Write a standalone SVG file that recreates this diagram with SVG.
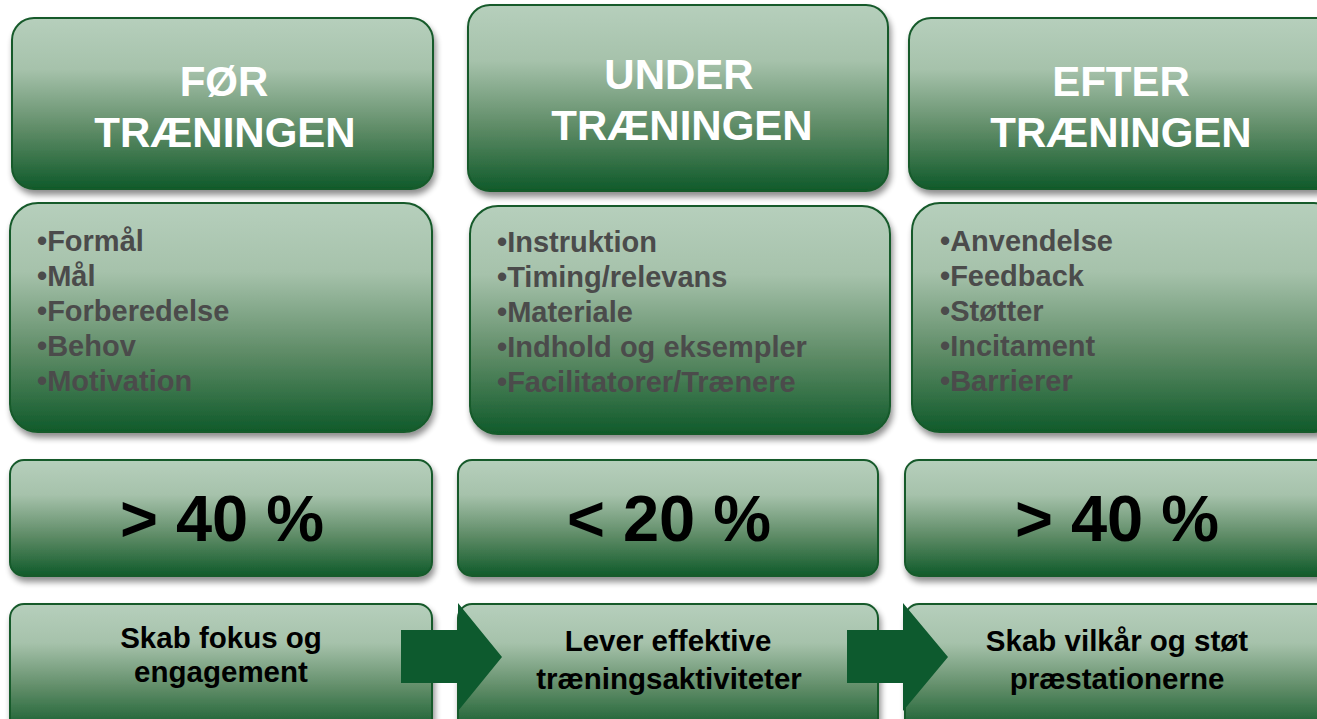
<svg xmlns="http://www.w3.org/2000/svg" width="1317" height="719" viewBox="0 0 1317 719">
<defs>
<linearGradient id="g" x1="0" y1="0" x2="0" y2="1">
<stop offset="0" stop-color="#b6cfbc"/>
<stop offset="0.3" stop-color="#a6c2ab"/>
<stop offset="0.65" stop-color="#5f8c67"/>
<stop offset="1" stop-color="#0f5a2a"/>
</linearGradient>
<filter id="sh" x="-10%" y="-10%" width="120%" height="130%">
<feGaussianBlur in="SourceAlpha" stdDeviation="3"/>
<feOffset dx="2" dy="5" result="b"/>
<feComponentTransfer><feFuncA type="linear" slope="0.45"/></feComponentTransfer>
<feMerge><feMergeNode/><feMergeNode in="SourceGraphic"/></feMerge>
</filter>
</defs>
<style>
.box{fill:url(#g);stroke:#175a2c;stroke-width:2;filter:url(#sh)}
.hd{font-family:"Liberation Sans",Arial,sans-serif;font-weight:bold;font-size:42px;fill:#ffffff;text-anchor:middle}
.li{font-family:"Liberation Sans",Arial,sans-serif;font-weight:bold;font-size:29px;fill:#4b4b4b}
.pc{font-family:"Liberation Sans",Arial,sans-serif;font-weight:bold;font-size:65px;fill:#000000;text-anchor:middle}
.bt{font-family:"Liberation Sans",Arial,sans-serif;font-weight:bold;font-size:29.5px;fill:#000000;text-anchor:middle}
.arr{fill:#0d5a2e}
</style>
<rect width="1317" height="719" fill="#ffffff"/>

<g id="head-foer"><rect class="box" x="12" y="18" width="421" height="171" rx="22"/>
<text class="hd" x="224" y="96">FØR</text><text class="hd" x="225" y="147">TRÆNINGEN</text></g>
<g id="head-under"><rect class="box" x="468" y="5" width="420" height="186" rx="22"/>
<text class="hd" x="679" y="89">UNDER</text><text class="hd" x="682" y="140">TRÆNINGEN</text></g>
<g id="head-efter"><rect class="box" x="909" y="18" width="430" height="171" rx="22"/>
<text class="hd" x="1121" y="96">EFTER</text><text class="hd" x="1121" y="147">TRÆNINGEN</text></g>

<g id="list-foer"><rect class="box" x="10" y="203" width="422" height="229" rx="28"/>
<text class="li" x="37" y="251">•Formål</text>
<text class="li" x="37" y="286">•Mål</text>
<text class="li" x="37" y="321">•Forberedelse</text>
<text class="li" x="37" y="356">•Behov</text>
<text class="li" x="37" y="391">•Motivation</text></g>
<g id="list-under"><rect class="box" x="470" y="206" width="420" height="228" rx="28"/>
<text class="li" x="497" y="252">•Instruktion</text>
<text class="li" x="497" y="287">•Timing/relevans</text>
<text class="li" x="497" y="322">•Materiale</text>
<text class="li" x="497" y="357">•Indhold og eksempler</text>
<text class="li" x="497" y="392">•Facilitatorer/Trænere</text></g>
<g id="list-efter"><rect class="box" x="912" y="203" width="430" height="229" rx="28"/>
<text class="li" x="940" y="251">•Anvendelse</text>
<text class="li" x="940" y="286">•Feedback</text>
<text class="li" x="940" y="321">•Støtter</text>
<text class="li" x="940" y="356">•Incitament</text>
<text class="li" x="940" y="391">•Barrierer</text></g>

<g id="pct-foer"><rect class="box" x="10" y="460" width="422" height="116" rx="14"/>
<text class="pc" x="222" y="541">&gt; 40 %</text></g>
<g id="pct-under"><rect class="box" x="458" y="460" width="420" height="116" rx="14"/>
<text class="pc" x="669" y="541">&lt; 20 %</text></g>
<g id="pct-efter"><rect class="box" x="905" y="460" width="430" height="116" rx="14"/>
<text class="pc" x="1117" y="541">&gt; 40 %</text></g>

<g id="goal-foer"><rect class="box" x="10" y="604" width="422" height="130" rx="14"/>
<text class="bt" x="221" y="648">Skab fokus og</text><text class="bt" x="221" y="682">engagement</text></g>
<g id="goal-under"><rect class="box" x="458" y="604" width="420" height="130" rx="14"/>
<text class="bt" x="668" y="651">Lever effektive</text><text class="bt" x="669" y="689">træningsaktiviteter</text></g>
<g id="goal-efter"><rect class="box" x="905" y="604" width="430" height="130" rx="14"/>
<text class="bt" x="1117" y="651">Skab vilkår og støt</text><text class="bt" x="1117" y="689">præstationerne</text></g>

<g id="connectors">
<polygon class="arr" points="401,630 458,630 458,603 502,657 458,711 458,683 401,683"/>
<polygon class="arr" points="847,630 903,630 903,603 948,657 903,711 903,683 847,683"/>
</g>
</svg>
